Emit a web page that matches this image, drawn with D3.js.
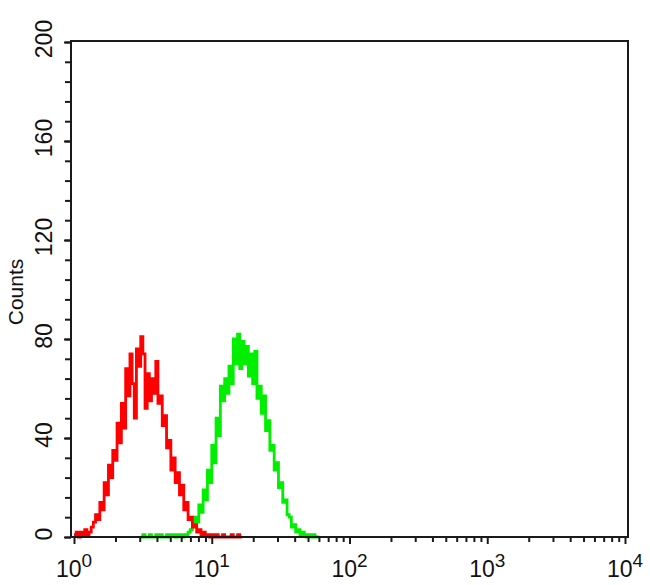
<!DOCTYPE html>
<html>
<head>
<meta charset="utf-8">
<script src="https://cdn.jsdelivr.net/npm/d3@7"></script>
<style>
  html, body { margin: 0; padding: 0; background: #fff; }
  svg { display: block; }
  text { font-family: "Liberation Sans", Arial, Helvetica, sans-serif; fill: #111; }
</style>
</head>
<body>
<svg id="chart" width="650" height="585"></svg>
<script>
// ---- data ----
const channelsPerDecade = 64;           // 256 channels over 4 decades
const redStart = 0;                      // first channel of red series
const redCounts = [1,2,0,2,1,3,1,2,4,6, 9,7,14,11,22,17,29,24,35,31, 46,38,54,44,68,57,74,62,48,76, 69,81,74,52,66,55,64,58,71,54, 57,45,49,36,39,27,32,22,26,17, 21,11,14,7,8,4,5,2,3,1, 2,1,1,0,1,0,1,0,0,1, 0,0,0,1,0,0,1,0];
const greenStart = 31;                   // first channel of green series
const greenCounts = [0,1,0,0,1,0,0,1,0,1,0,0,1,0,1,1,0,1,1,0,1,1, 2,3,5,8,6,13,10,19,15,27,22,37,30,48,41,61,55,64,58,69,62,80,70,82,68,79,70,77,65,74,62,75,56,61,50,57,43,47,35,37,27,30,20,22,14,15,9,8,4,5,2,3,1,2,1,0,1,0,1,0,0];
const xMajorTicks = [1, 10, 100, 1000, 10000];
const xTickExponents = ["0", "1", "2", "3", "4"];
const yMajorTicks = [0, 40, 80, 120, 160, 200];
const yMinorStep = 8;
const yLabel = "Counts";

// ---- layout ----
const svg = d3.select("#chart");
const frame = {left: 71, top: 41, right: 628, bottom: 537};
const x = d3.scaleLog().domain([1, 1e4]).range([74, 625]);
const y = d3.scaleLinear().domain([0, 200]).range([537, 42]);

function toPoints(start, counts) {
  const pts = counts.map((v, i) => ({x: Math.pow(10, (start + i) / channelsPerDecade), v}));
  pts.push({x: Math.pow(10, (start + counts.length) / channelsPerDecade), v: counts[counts.length - 1]});
  return pts;
}
const line = d3.line().x(d => x(d.x)).y(d => y(d.v)).curve(d3.curveStepAfter);

// histograms
svg.append("path").datum(toPoints(greenStart, greenCounts))
  .attr("d", line).attr("fill", "none").attr("stroke", "#00ee00").attr("stroke-width", 2.8);
svg.append("path").datum(toPoints(redStart, redCounts))
  .attr("d", line).attr("fill", "none").attr("stroke", "#ff0000").attr("stroke-width", 2.8);

// frame
svg.append("rect")
  .attr("x", frame.left).attr("y", frame.top)
  .attr("width", frame.right - frame.left).attr("height", frame.bottom - frame.top)
  .attr("fill", "none").attr("stroke", "#1a1a1a").attr("stroke-width", 2);

// x axis ticks
const xMinor = [];
for (let d = 0; d < 4; d++) for (let k = 2; k <= 9; k++) xMinor.push(k * Math.pow(10, d));
const gxMinor = svg.append("g").attr("transform", `translate(0,${frame.bottom})`)
  .call(d3.axisBottom(x).tickValues(xMinor).tickSize(5).tickFormat(""));
const gxMajor = svg.append("g").attr("transform", `translate(0,${frame.bottom})`)
  .call(d3.axisBottom(x).tickValues(xMajorTicks).tickSize(7).tickFormat(""));
[gxMinor, gxMajor].forEach(g => {
  g.select(".domain").remove();
  g.selectAll(".tick line").attr("stroke", "#1a1a1a").attr("stroke-width", 2);
});
// x tick labels
const xl = svg.append("g");
xMajorTicks.forEach((t, i) => {
  const txt = xl.append("text").attr("x", x(t)).attr("y", 577)
    .attr("text-anchor", "middle").style("font-size", "23px");
  txt.append("tspan").text("10");
  txt.append("tspan").attr("dy", -10).style("font-size", "19px").text(xTickExponents[i]);
});

// y axis ticks
const gyMinor = svg.append("g").attr("transform", `translate(${frame.left},0)`)
  .call(d3.axisLeft(y).tickValues(d3.range(0, 201, yMinorStep)).tickSize(6).tickFormat(""));
const gyMajor = svg.append("g").attr("transform", `translate(${frame.left},0)`)
  .call(d3.axisLeft(y).tickValues(yMajorTicks).tickSize(7).tickFormat(""));
[gyMinor, gyMajor].forEach(g => {
  g.select(".domain").remove();
  g.selectAll(".tick line").attr("stroke", "#1a1a1a").attr("stroke-width", 2);
});
// y tick labels (rotated)
yMajorTicks.forEach(t => {
  svg.append("text")
    .attr("transform", `translate(52,${y(t) - 3}) rotate(-90)`)
    .attr("text-anchor", "middle").style("font-size", "23px").text(t);
});
// y axis title
svg.append("text")
  .attr("transform", `translate(23,292) rotate(-90)`)
  .attr("text-anchor", "middle").style("font-size", "21px").text(yLabel);
</script>
</body>
</html>
